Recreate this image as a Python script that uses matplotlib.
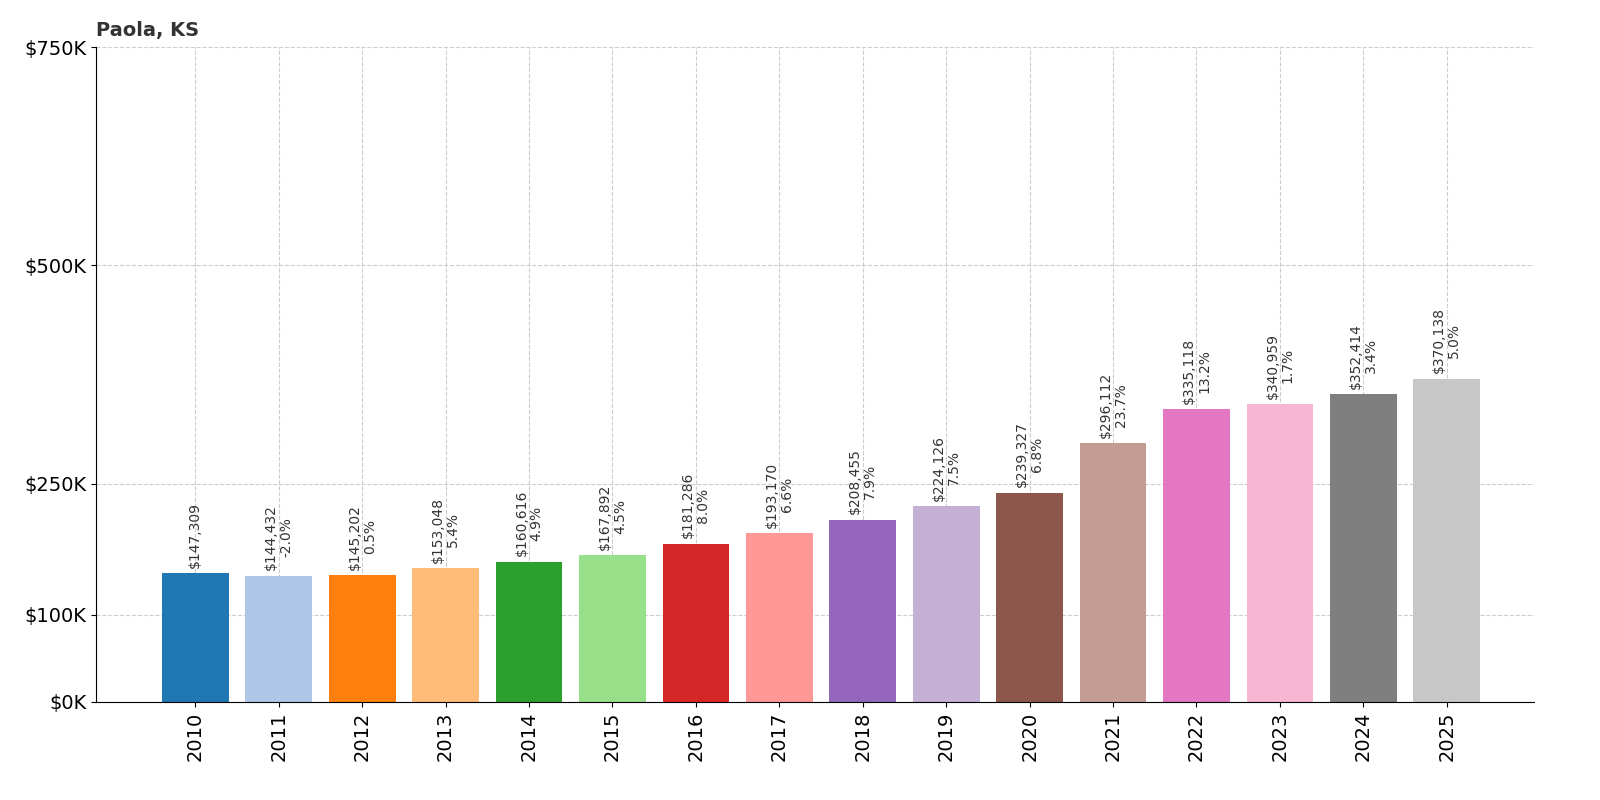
import matplotlib
matplotlib.use("Agg")
import matplotlib.pyplot as plt

years = [str(y) for y in range(2010, 2026)]
values = [147309, 144432, 145202, 153048, 160616, 167892, 181286, 193170, 208455,
          224126, 239327, 296112, 335118, 340959, 352414, 370138]
changes = [None, "-2.0%", "0.5%", "5.4%", "4.9%", "4.5%", "8.0%", "6.6%", "7.9%",
           "7.5%", "6.8%", "23.7%", "13.2%", "1.7%", "3.4%", "5.0%"]
yticks = [0, 100000, 250000, 500000, 750000]
ytick_labels = ["$0K", "$100K", "$250K", "$500K", "$750K"]

colors = plt.get_cmap("tab20").colors
fig = plt.figure(figsize=(16, 8), dpi=100)
ax = fig.add_axes([0.06, 0.1225, 0.899, 0.8187])
x = range(len(years))
ax.bar(x, values, width=0.8, color=[colors[i % 20] for i in x], zorder=2)
for i, v in enumerate(values):
    txt = f"${v:,}" if changes[i] is None else f"${v:,}\n{changes[i]}"
    ax.annotate(txt, (i, v), xytext=(0, 4), textcoords="offset points",
                rotation=90, ha="center", va="bottom", fontsize=10, color="#333333",
                linespacing=1.1)
ax.set_ylim(0, 750000)
ax.set_xlim(-1.19, 16.05)
ax.set_yticks(yticks)
ax.set_yticklabels(ytick_labels, fontsize=14)
ax.set_xticks(list(x))
ax.set_xticklabels(years, rotation=90, fontsize=14)
ax.grid(True, linestyle="--", color="#cccccc", zorder=0)
ax.spines["top"].set_visible(False)
ax.spines["right"].set_visible(False)
ax.text(0.0, 1.01, "Paola, KS", transform=ax.transAxes, fontsize=14,
        fontweight="bold", color="#333333", ha="left", va="bottom")
fig.savefig("out.png")
